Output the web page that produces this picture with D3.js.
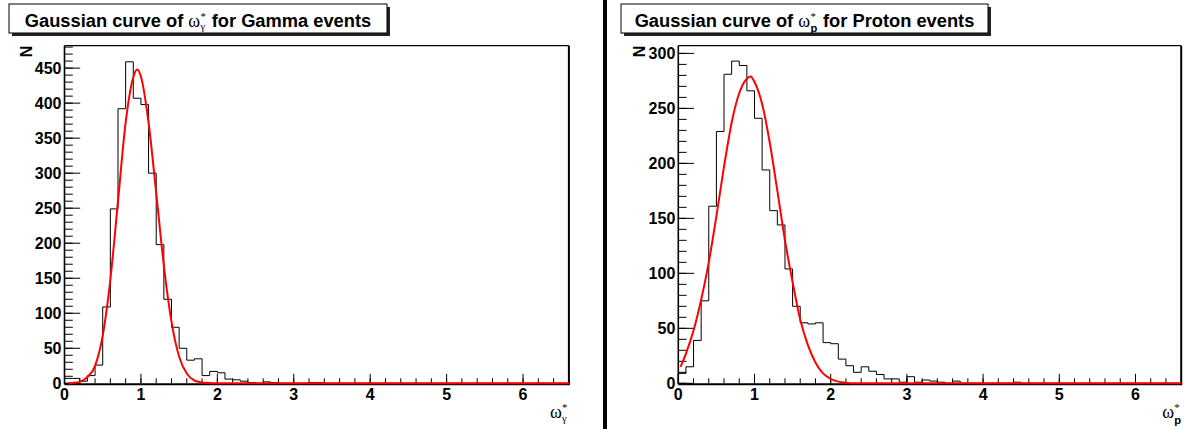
<!DOCTYPE html>
<html>
<head>
<meta charset="utf-8">
<script src="https://cdn.jsdelivr.net/npm/d3@7"></script>
<style>
  html, body { margin: 0; padding: 0; background: #fff; }
  svg { display: block; }
  text { font-family: "Liberation Sans", Arial, Helvetica, sans-serif; font-weight: bold; fill: #000; white-space: pre; }
  text.sym { font-family: "Liberation Serif", "DejaVu Serif", serif; font-weight: normal; }
</style>
</head>
<body>
<svg id="chart" width="1184" height="429"></svg>
<script>
// ---- data -------------------------------------------------------------
// Bin contents of 0.1-wide bins covering omega* in [0, 6.6)
const binWidth = 0.1;
const xDomain = [0, 6.6];

const gammaCounts = [
  7, 7, 3, 11, 26, 109, 249, 392, 459, 407,
  398, 300, 198, 120, 80, 50, 33, 35, 11, 17,
  15, 6, 5, 3, 1, 0, 2, 1, 0, 0,
  0, 0, 1, 1, 0, 0, 0, 0, 0, 0,
  0, 0, 0, 0, 0, 0, 0, 0, 0, 0,
  0, 0, 0, 0, 0, 0, 0, 0, 0, 0,
  0, 0, 0, 0, 0, 0
];

const protonCounts = [
  9, 15, 39, 75, 161, 229, 281, 293, 289, 266,
  241, 194, 157, 144, 104, 70, 55, 54, 55, 37,
  36, 22, 16, 10, 15, 11, 8, 4, 4, 1,
  6, 1, 3, 2, 1, 0, 2, 0, 0, 0,
  0, 0, 0, 0, 1, 0, 0, 0, 0, 0,
  0, 0, 0, 0, 0, 0, 0, 0, 0, 0,
  0, 0, 0, 0, 0, 0
];

// Gaussian fit curves, sampled along omega*
const gammaFitX = [0.05, 0.1, 0.2, 0.3, 0.4, 0.5, 0.6, 0.7, 0.8, 0.9, 0.95, 1.0, 1.1, 1.2, 1.3, 1.4, 1.5, 1.6, 1.7, 1.8, 1.9, 2.0, 6.6];
const gammaFitN = [0, 0.5, 2, 9, 25, 68, 148, 260, 372, 437, 448, 438, 372, 272, 168, 88, 38, 14, 4, 1.2, 0.3, 0, 0];

const protonFitX = [0.03, 0.1, 0.2, 0.3, 0.4, 0.5, 0.6, 0.7, 0.8, 0.9, 0.95, 1.0, 1.1, 1.2, 1.3, 1.4, 1.5, 1.6, 1.7, 1.8, 1.9, 2.0, 2.1, 2.2, 2.3, 6.6];
const protonFitN = [15, 27, 48, 76, 110, 152, 197, 237, 264, 277, 279, 274, 254, 219, 175, 130, 92, 58, 35, 19, 9, 4, 1.5, 0.5, 0, 0];

// Axis ticks and labels
const xMajorTicks = [0, 1, 2, 3, 4, 5, 6];
const gammaYMajor = [0, 50, 100, 150, 200, 250, 300, 350, 400, 450];
const protonYMajor = [0, 50, 100, 150, 200, 250, 300];
const gammaYMax = 482;
const protonYMax = 307;

const gammaTitle = { pre: "Gaussian curve of\u00A0", sub: "\u03B3", subSym: true, post: "\u00A0for Gamma events" };
const protonTitle = { pre: "Gaussian curve of\u00A0", sub: "p", subSym: false, post: "\u00A0for Proton events" };

// ---- drawing ----------------------------------------------------------
const svg = d3.select("#chart");
svg.append("rect").attr("width", 1184).attr("height", 429).attr("fill", "#fff");

// divider between the two pads
svg.append("rect").attr("x", 603).attr("y", 0).attr("width", 4).attr("height", 429).attr("fill", "#000");

// omega with a stacked * superscript and a subscript
function omegaStar(g, x, baseline, size, sub, subSym) {
  const om = g.append("text").attr("class", "sym").attr("x", x).attr("y", baseline)
    .style("font-size", size + "px").text("\u03C9");
  const w = om.node().getComputedTextLength();
  g.append("text").attr("class", "sym").attr("x", x + w + 0.3).attr("y", baseline - size * 0.38)
    .style("font-size", (size * 0.6) + "px").text("*");
  const s = g.append("text").attr("x", x + w + 0.3).attr("y", baseline + size * (subSym ? 0.2 : 0.3))
    .style("font-size", (size * (subSym ? 0.58 : 0.62)) + "px").text(sub);
  if (subSym) s.attr("class", "sym");
  return w + Math.max(s.node().getComputedTextLength(), size * 0.3) + 1;
}

function titleBox(box, t) {
  const g = svg.append("g");
  g.append("rect").attr("x", box.x + 3).attr("y", box.y + 3).attr("width", box.w).attr("height", box.h).attr("fill", "#222");
  g.append("rect").attr("x", box.x).attr("y", box.y).attr("width", box.w).attr("height", box.h)
    .attr("fill", "#fff").attr("stroke", "#000").attr("stroke-width", 1);
  const tg = g.append("g");
  const fs = 18.3, base = box.y + 22.8;
  let cx = 0;
  const a = tg.append("text").attr("x", cx).attr("y", base).style("font-size", fs + "px").text(t.pre);
  cx += a.node().getComputedTextLength();
  cx += omegaStar(tg, cx, base, 18, t.sub, t.subSym);
  const b = tg.append("text").attr("x", cx).attr("y", base).style("font-size", fs + "px").text(t.post);
  cx += b.node().getComputedTextLength();
  tg.attr("transform", `translate(${box.x + (box.w - cx) / 2},0)`);
}

function panel(p) {
  const x = d3.scaleLinear().domain(xDomain).range([p.left, p.right]);
  const y = d3.scaleLinear().domain([0, p.yMax]).range([p.bottom, p.top]);
  const g = svg.append("g");

  // frame
  g.append("line").attr("x1", p.left).attr("x2", p.right).attr("y1", p.top).attr("y2", p.top)
    .attr("stroke", "#000").attr("stroke-width", 1.3);
  g.append("line").attr("x1", p.right).attr("x2", p.right).attr("y1", p.top).attr("y2", p.bottom + 1)
    .attr("stroke", "#000").attr("stroke-width", 2);

  // y axis: ticks point into the frame
  const yMinor = d3.range(0, p.yMax + 0.001, 10);
  const yAxis = g.append("g").attr("transform", `translate(${p.left},0)`);
  yAxis.selectAll("line.minor").data(yMinor).join("line")
    .attr("x1", 0).attr("x2", 8.3).attr("y1", d => y(d)).attr("y2", d => y(d))
    .attr("stroke", "#000").attr("stroke-width", 1);
  yAxis.selectAll("line.major").data(p.yMajor).join("line")
    .attr("x1", 0).attr("x2", 15.7).attr("y1", d => y(d)).attr("y2", d => y(d))
    .attr("stroke", "#000").attr("stroke-width", 1);
  yAxis.selectAll("text").data(p.yMajor).join("text")
    .attr("x", -3).attr("y", d => y(d)).attr("dy", "0.36em").attr("text-anchor", "end")
    .style("font-size", "16px").text(d => d);
  yAxis.append("line").attr("x1", 0).attr("x2", 0).attr("y1", p.top).attr("y2", p.bottom + 1)
    .attr("stroke", "#000").attr("stroke-width", 1.6);

  // x axis: ticks point up into the frame
  const xMinor = d3.range(0, 6.6001, 0.2);
  const xAxis = g.append("g").attr("transform", `translate(0,${p.bottom})`);
  xAxis.selectAll("line.minor").data(xMinor).join("line")
    .attr("x1", d => x(d)).attr("x2", d => x(d)).attr("y1", 0).attr("y2", -5)
    .attr("stroke", "#000").attr("stroke-width", 1);
  xAxis.selectAll("line.major").data(xMajorTicks).join("line")
    .attr("x1", d => x(d)).attr("x2", d => x(d)).attr("y1", 0).attr("y2", -9.5)
    .attr("stroke", "#000").attr("stroke-width", 1);
  xAxis.selectAll("text").data(xMajorTicks).join("text")
    .attr("x", d => x(d)).attr("y", 17.2).attr("text-anchor", "middle")
    .style("font-size", "16px").text(d => d);
  xAxis.append("line").attr("x1", p.left).attr("x2", p.right + 1).attr("y1", 1).attr("y2", 1)
    .attr("stroke", "#000").attr("stroke-width", 2);

  // histogram outline
  const steps = [[0, 0]];
  p.counts.forEach((c, i) => { steps.push([i * binWidth, c]); steps.push([(i + 1) * binWidth, c]); });
  steps.push([p.counts.length * binWidth, 0]);
  g.append("path").datum(steps)
    .attr("d", d3.line().x(d => x(d[0])).y(d => y(d[1])))
    .attr("fill", "none").attr("stroke", "#000").attr("stroke-width", 1);

  // gaussian fit
  const fit = p.fitX.map((v, i) => [v, p.fitN[i]]);
  g.append("path").datum(fit)
    .attr("d", d3.line().x(d => x(d[0])).y(d => y(d[1])).curve(d3.curveMonotoneX))
    .attr("fill", "none").attr("stroke", "#ff0000").attr("stroke-width", 2);

  // axis titles
  g.append("text").attr("transform", `translate(${p.nx},${p.top}) rotate(-90)`)
    .attr("text-anchor", "end").style("font-size", "16px").text("N");
  const xt = g.append("g");
  omegaStar(xt, p.right - 19, p.bottom + 35, 18, p.sub, p.subSym);
}

titleBox({ x: 9, y: 4, w: 378, h: 29 }, gammaTitle);
titleBox({ x: 621, y: 4, w: 367, h: 29 }, protonTitle);

panel({ left: 64.5, right: 568.9, top: 45.7, bottom: 383.3, yMax: gammaYMax, yMajor: gammaYMajor,
        counts: gammaCounts, fitX: gammaFitX, fitN: gammaFitN, nx: 32, sub: gammaTitle.sub, subSym: true });
panel({ left: 678.3, right: 1181.2, top: 45.7, bottom: 383.3, yMax: protonYMax, yMajor: protonYMajor,
        counts: protonCounts, fitX: protonFitX, fitN: protonFitN, nx: 645, sub: protonTitle.sub, subSym: false });
</script>
</body>
</html>
